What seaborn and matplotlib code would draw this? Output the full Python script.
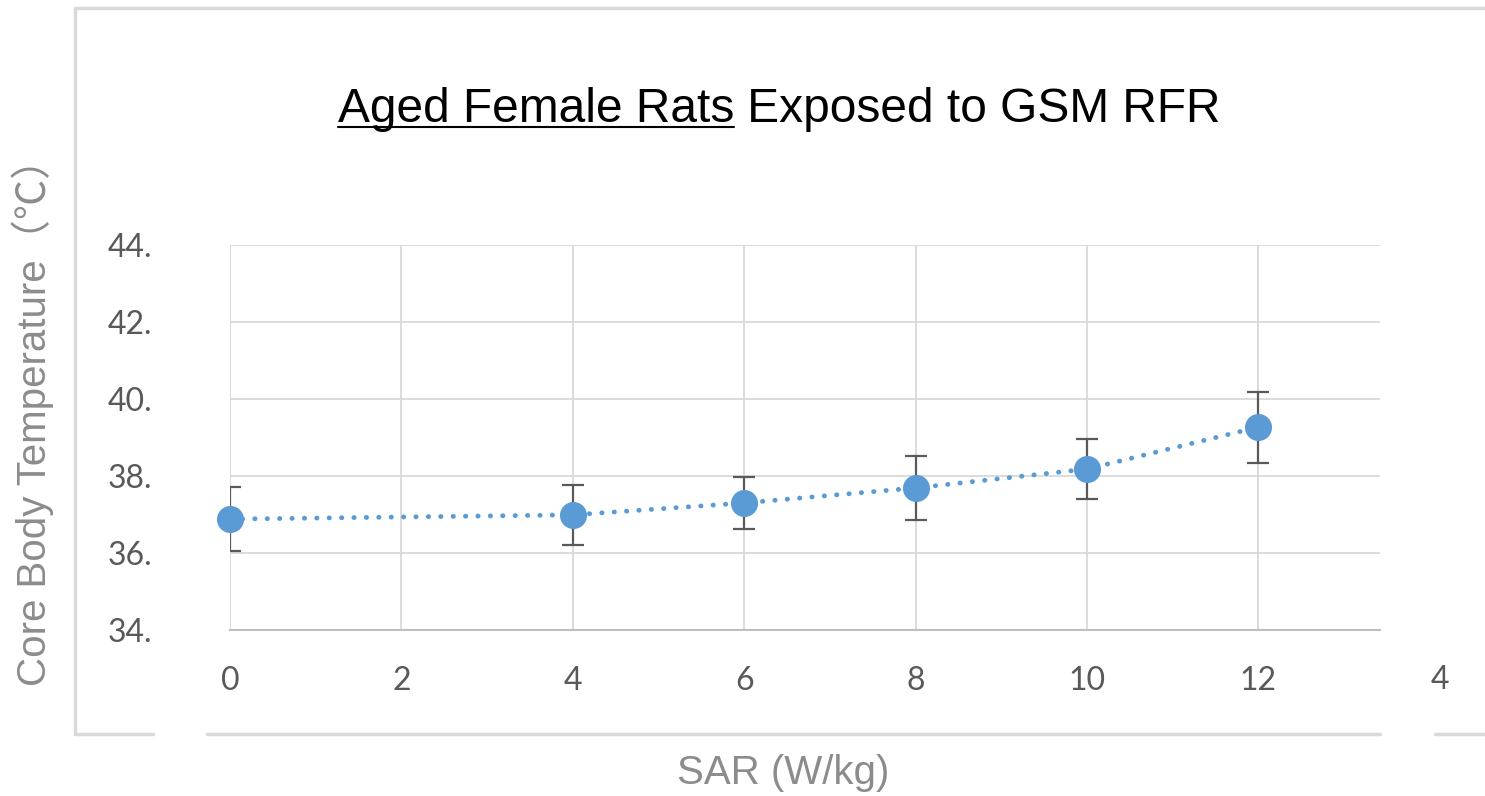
import matplotlib
matplotlib.use("Agg")
import matplotlib.pyplot as plt
from matplotlib.lines import Line2D
import matplotlib.transforms as mtransforms
import seaborn as sns
import pandas as pd

# data
sar = [0, 4, 6, 8, 10, 12]
temp = [36.88, 36.99, 37.30, 37.69, 38.18, 39.27]
err = [0.83, 0.77, 0.68, 0.83, 0.77, 0.92]
xticks = [0, 2, 4, 6, 8, 10, 12]
yticks = [34, 36, 38, 40, 42, 44]
ytick_labels = ["34.", "36.", "38.", "40.", "42.", "44."]

W, H = 1485, 796
sns.set_theme(style="white")
plt.rcParams["font.family"] = ["Liberation Sans", "DejaVu Sans"]

fig = plt.figure(figsize=(W / 100, H / 100), dpi=100)
ax = fig.add_axes([230 / W, 1 - 630 / H, (1380 - 230) / W, (630 - 245) / H])

df = pd.DataFrame({"SAR": sar, "Temp": temp})
blue = "#5B9BD5"

ax.errorbar(sar, temp, yerr=err, fmt="none", ecolor="#595959", elinewidth=1.6,
            capsize=8, capthick=1.6, zorder=3)
sns.lineplot(data=df, x="SAR", y="Temp", ax=ax, color=blue, linewidth=3.5,
             linestyle=(0, (0.05, 2.5)), dash_capstyle="round", zorder=4)
sns.scatterplot(data=df, x="SAR", y="Temp", ax=ax, color=blue, s=380,
                edgecolor=blue, linewidth=0, zorder=5, clip_on=False)

ax.set_xlim(0, 13.42)
ax.set_ylim(34, 44)
ax.set_xticks(xticks)
ax.set_yticks(yticks)
ax.set_yticklabels(ytick_labels)
ax.grid(True, color="#D9D9D9", linewidth=1.3)
ax.set_axisbelow(True)
for s in ["top", "right", "left"]:
    ax.spines[s].set_visible(False)
ax.spines["bottom"].set_color("#BFBFBF")
ax.spines["bottom"].set_linewidth(1.5)
ax.tick_params(axis="both", length=0, labelcolor="#595959", labelsize=23)
ax.tick_params(axis="y", pad=56)
ax.tick_params(axis="x", pad=26)
for lab in ax.get_xticklabels() + ax.get_yticklabels():
    lab.set_fontfamily("Lato")
ax.set_xlabel("")
ax.set_ylabel("")

# clipped "14" label at the edge
trans = mtransforms.blended_transform_factory(ax.transData, ax.transAxes)
ax.text(14.01, -0.09, "4", transform=trans, ha="left", va="top", fontsize=23,
        color="#595959", family="Lato", clip_on=False)

# title with underlined first part
fs = 34.5
t1 = fig.text(338 / W, 1 - 122 / H, "Aged Female Rats", fontsize=fs,
              color="black", va="baseline", ha="left")
fig.canvas.draw()
r = fig.canvas.get_renderer()
bb = t1.get_window_extent(r)
fig.text(bb.x1 / W, 1 - 122 / H, " Exposed to GSM RFR", fontsize=fs,
         color="black", va="baseline", ha="left")
fig.add_artist(Line2D([bb.x0 / W, bb.x1 / W], [1 - 127 / H, 1 - 127 / H],
                      color="black", linewidth=1.5))

fig.text(33 / W, 1 - 412 / H, "Core Body Temperature（℃）", rotation=90,
         fontsize=29, color="#8C8C8C", ha="center", va="center",
         family=["Liberation Sans", "Noto Sans CJK SC"])
fig.text(783 / W, 1 - 773 / H, "SAR (W/kg)", fontsize=29, color="#8C8C8C",
         ha="center", va="center")

# chart frame
fc = "#D9D9D9"
lw = 2.5
def fl(x0, y0, x1, y1):
    fig.add_artist(Line2D([x0 / W, x1 / W], [1 - y0 / H, 1 - y1 / H],
                          color=fc, linewidth=lw))
fl(75, 8, 1485, 8)
fl(75, 8, 75, 734)
fl(75, 734, 153, 734)
fl(207, 734, 1380, 734)
fl(1435, 734, 1485, 734)

fig.savefig("out.png", dpi=100)
